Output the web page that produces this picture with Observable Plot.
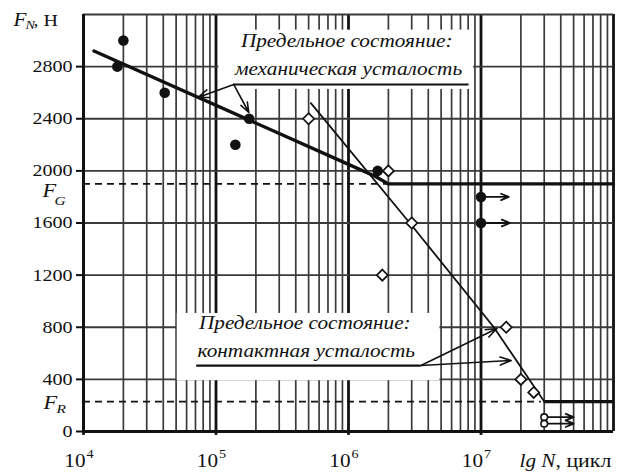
<!DOCTYPE html>
<html><head><meta charset="utf-8">
<script src="https://cdn.jsdelivr.net/npm/d3@7"></script>
<script src="https://cdn.jsdelivr.net/npm/@observablehq/plot@0.6"></script>
<style>body{margin:0;background:#fff}</style>
</head><body><div id="chart"></div>
<script>
// ---- tick / grid values ----
const yTicks = [0, 400, 800, 1200, 1600, 2000, 2400, 2800];
const yGrid = [400, 800, 1200, 1600, 2000, 2400, 2800, 3200];
const decades = [1e4, 1e5, 1e6, 1e7];
const decadeExp = ["4", "5", "6", "7"];
const majorLines = [1e5, 1e6, 1e7, 1e8];
const minorMult = [2, 3, 4, 5, 6, 7, 8, 9];

// ---- limit levels ----
const FG = 1900;
const FR = 230;

// ---- mechanical fatigue test points (filled circles) ----
const mechN = [1.8e4, 2.0e4, 4.1e4, 1.4e5, 1.78e5, 1.66e6, 1.0e7, 1.0e7];
const mechF = [2800, 3000, 2600, 2200, 2400, 2000, 1800, 1600];

// ---- contact fatigue test points (open diamonds) ----
const contN = [5.0e5, 1.8e6, 2.0e6, 3.0e6, 1.55e7, 2.0e7, 2.5e7];
const contF = [2400, 1200, 2000, 1600, 800, 400, 300];
const runN = [3.0e7, 3.0e7];
const runF = [110, 60];

// ---- fitted curves ----
const mechCurveN = [1.2e4, 1.0e6, 1.6e6, 2.0e6, 1.0e8];
const mechCurveF = [2920, 2050, 1957, 1900, 1900];
const contCurveN = [5.2e5, 2.9e6, 1.25e7, 3.0e7];
const contCurveF = [2520, 1600, 800, FR];

// ---- run-out arrows ----
const runArrowN1 = [1.05e7, 1.05e7, 3.2e7, 3.2e7];
const runArrowN2 = [1.62e7, 1.65e7, 5.0e7, 5.0e7];
const runArrowF = [1800, 1600, 110, 60];

// ---- annotations ----
const annText = ["Предельное состояние:", "механическая усталость", "Предельное состояние:", "контактная усталость"];
const annN = [9.7e5, 1.0e6, 4.68e5, 4.8e5];
const annF = [2947, 2732, 790, 568];
const ulN1 = [1.36e5, 7.15e4];
const ulN2 = [8.13e6, 3.52e6];
const ulF = [2663, 506];
const ptrN1 = [1.36e5, 1.36e5, 3.52e6, 3.52e6];
const ptrF1 = [2663, 2663, 506, 506];
const ptrN2 = [7.3e4, 1.77e5, 1.32e7, 1.69e7];
const ptrF2 = [2563, 2448, 790, 545];
const boxN1 = [1.05e5, 5.1e4];
const boxN2 = [8.8e6, 4.9e6];
const boxF1 = [2625, 390];
const boxF2 = [3080, 906];

// ---- build tables ----
const minorGrid = decades.flatMap(d => minorMult.map(m => d * m));
const mech = mechN.map((n, i) => ({n, F: mechF[i]}));
const cont = contN.map((n, i) => ({n, F: contF[i]}));
const runs = runN.map((n, i) => ({n, F: runF[i]}));
const mechCurve = mechCurveN.map((n, i) => ({n, F: mechCurveF[i]}));
const contCurve = contCurveN.map((n, i) => ({n, F: contCurveF[i]}));
const runArrows = runArrowF.map((F, i) => ({n1: runArrowN1[i], n2: runArrowN2[i], F}));
const ann = annText.map((t, i) => ({t, n: annN[i], F: annF[i]}));
const uls = ulF.map((F, i) => ({n1: ulN1[i], n2: ulN2[i], F}));
const ptrs = ptrN1.map((n1, i) => ({n1, F1: ptrF1[i], n2: ptrN2[i], F2: ptrF2[i]}));
const boxes = boxN1.map((n1, i) => ({n1, n2: boxN2[i], F1: boxF1[i], F2: boxF2[i]}));
const xLab = decades.map((n, i) => ({n, e: decadeExp[i]}));

const ink = "#111";
const grid = "#3a3a3a";
const serif = "Liberation Serif";

const chart = Plot.plot({
  width: 624, height: 473,
  marginLeft: 83, marginRight: 11, marginTop: 14, marginBottom: 42,
  style: {fontFamily: serif, color: ink, background: "#fff", overflow: "visible"},
  x: {type: "log", domain: [1e4, 1e8], axis: null},
  y: {type: "linear", domain: [0, 3200], axis: null},
  marks: [
    Plot.ruleX(minorGrid, {stroke: grid, strokeWidth: 1.7}),
    Plot.ruleX(majorLines, {stroke: ink, strokeWidth: 2.8}),
    Plot.ruleY(yGrid, {stroke: grid, strokeWidth: 1.8}),
    Plot.rect(boxes, {x1: "n1", x2: "n2", y1: "F1", y2: "F2", fill: "#fff"}),
    // limit dashed lines
    Plot.ruleY([FG], {x1: 1e4, x2: 2.0e6, stroke: ink, strokeWidth: 1.8, strokeDasharray: "7,5"}),
    Plot.ruleY([FR], {x1: 1e4, x2: 2.85e7, stroke: ink, strokeWidth: 1.8, strokeDasharray: "7,5"}),
    // curves
    Plot.line(contCurve, {x: "n", y: "F", stroke: ink, strokeWidth: 1.8}),
    Plot.ruleY([FR], {x1: 3.0e7, x2: 1e8, stroke: ink, strokeWidth: 3.2}),
    Plot.line(mechCurve, {x: "n", y: "F", stroke: ink, strokeWidth: 3.4}),
    // annotation underlines and pointers
    Plot.ruleY(uls, {x1: "n1", x2: "n2", y: "F", stroke: ink, strokeWidth: 2.2}),
    Plot.arrow(ptrs, {x1: "n1", y1: "F1", x2: "n2", y2: "F2", stroke: ink, strokeWidth: 1.6, headLength: 11, headAngle: 40}),
    // run-out arrows
    Plot.arrow(runArrows, {x1: "n1", x2: "n2", y1: "F", y2: "F", stroke: ink, strokeWidth: 1.8, headLength: 10, headAngle: 45}),
    // points
    Plot.dot(mech, {x: "n", y: "F", r: 5.3, fill: ink, stroke: "none"}),
    Plot.dot(cont, {x: "n", y: "F", r: 5, symbol: "diamond2", fill: "#fff", stroke: ink, strokeWidth: 1.7}),
    Plot.dot(runs, {x: "n", y: "F", r: 3.3, fill: "#fff", stroke: ink, strokeWidth: 1.6}),
    // axes
    Plot.ruleX([1e4], {stroke: ink, strokeWidth: 3}),
    Plot.ruleY([0], {stroke: ink, strokeWidth: 3}),
    Plot.ruleX(decades, {y1: 0, y2: -30, stroke: ink, strokeWidth: 2.8}),
    Plot.axisY({ticks: yTicks, tickSize: 7, tickPadding: 4, fontSize: 17, strokeWidth: 2, label: null, tickFormat: d => String(d)}),
    Plot.text(xLab, {x: "n", y: 0, text: () => "10", dx: 2, dy: 35, textAnchor: "end", lineAnchor: "bottom", fontSize: 18, fill: ink}),
    Plot.text(xLab, {x: "n", y: 0, text: "e", dx: 3, dy: 26, textAnchor: "start", lineAnchor: "bottom", fontSize: 12, fill: ink}),
    Plot.text(["lg N"], {x: 1e8, y: 0, dx: -58, dy: 35, textAnchor: "end", lineAnchor: "bottom", fontSize: 18, fontStyle: "italic", fill: ink}),
    Plot.text([", цикл"], {x: 1e8, y: 0, dx: -58, dy: 35, textAnchor: "start", lineAnchor: "bottom", fontSize: 18.5, fill: ink}),
    // y label F_N, Н
    Plot.text(["F"], {x: 1e4, y: 3200, dx: -70, dy: 11, textAnchor: "start", lineAnchor: "bottom", fontSize: 18, fontStyle: "italic", fill: ink}),
    Plot.text(["N"], {x: 1e4, y: 3200, dx: -58, dy: 14, textAnchor: "start", lineAnchor: "bottom", fontSize: 12, fontStyle: "italic", fill: ink}),
    Plot.text([", Н"], {x: 1e4, y: 3200, dx: -50, dy: 11, textAnchor: "start", lineAnchor: "bottom", fontSize: 17, fill: ink}),
    // F_G and F_R labels
    Plot.text(["F"], {x: 1e4, y: FG, dx: -41, dy: 13, textAnchor: "start", lineAnchor: "bottom", fontSize: 19, fontStyle: "italic", fill: ink}),
    Plot.text(["G"], {x: 1e4, y: FG, dx: -29, dy: 21, textAnchor: "start", lineAnchor: "bottom", fontSize: 13, fontStyle: "italic", fill: ink}),
    Plot.text(["F"], {x: 1e4, y: FR, dx: -40, dy: 7, textAnchor: "start", lineAnchor: "bottom", fontSize: 19, fontStyle: "italic", fill: ink}),
    Plot.text(["R"], {x: 1e4, y: FR, dx: -27, dy: 11, textAnchor: "start", lineAnchor: "bottom", fontSize: 13, fontStyle: "italic", fill: ink}),
    // annotation text
    Plot.text(ann, {x: "n", y: "F", text: "t", textAnchor: "middle", lineAnchor: "bottom", fontSize: 18, fontStyle: "italic", fill: ink})
  ]
});
document.getElementById("chart").append(chart);
// horizontal widening of the serif type, as in the reference
const STRETCH = 1.18;
chart.querySelectorAll("text").forEach(t => {
  const w = t.getComputedTextLength();
  if (w > 0) {
    t.setAttribute("textLength", (w * STRETCH).toFixed(1));
    t.setAttribute("lengthAdjust", "spacingAndGlyphs");
  }
});
</script>
</body></html>
